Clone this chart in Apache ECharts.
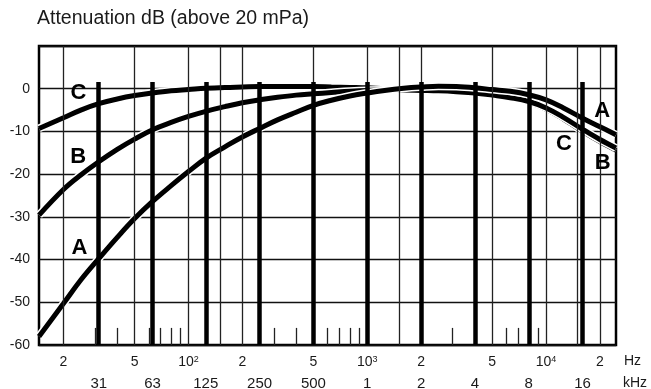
<!DOCTYPE html>
<html>
<head>
<meta charset="utf-8">
<script src="https://cdn.jsdelivr.net/npm/echarts@6/dist/echarts.min.js"></script>
<style>
  html, body { margin: 0; padding: 0; background: #fff; }
  #chart { width: 651px; height: 389px; }
</style>
</head>
<body>
<div id="chart"></div>
<script>
const freqs = [14.6, 20, 25, 31.5, 40, 50, 63, 80, 100, 125, 160, 200, 250, 315, 400, 500, 630, 800,
  1000, 1250, 1600, 2000, 2500, 3150, 4000, 5000, 6300, 8000, 10000, 12500, 16000, 20000, 24600]

const weightA = [-58.0, -50.3, -44.8, -39.8, -34.8, -30.4, -26.4, -22.7, -19.4, -16.3, -13.6, -11.3, -9.3, -7.3, -5.5, -3.9, -2.7, -1.7,
  -1.0, -0.4, 0.1, 0.4, 0.6, 0.5, 0.2, -0.2, -0.6, -1.4, -2.6, -4.5, -6.9, -8.9, -10.8]
const weightB = [-29.6, -23.6, -20.2, -17.1, -14.2, -11.8, -9.6, -7.9, -6.5, -5.3, -4.2, -3.3, -2.6, -2.0, -1.5, -1.2, -0.9, -0.6,
  -0.4, -0.3, -0.3, -0.4, -0.5, -0.7, -1.0, -1.5, -2.1, -3.0, -4.5, -6.7, -9.5, -11.9, -13.9]
const weightC = [-9.3, -6.8, -5.0, -3.5, -2.4, -1.6, -1.0, -0.5, -0.2, 0.1, 0.3, 0.4, 0.5, 0.5, 0.5, 0.5, 0.4, 0.3,
  0.2, 0.0, -0.1, -0.3, -0.5, -0.7, -1.0, -1.5, -2.2, -3.2, -4.8, -7.1, -10.0, -12.4, -14.4]

// axis
const freqMin = 14.6
const freqMax = 24600
const gridFreqs = [20, 50, 100, 150, 200, 500, 1000, 1500, 2000, 5000, 10000, 15000, 20000]
const minorFreqs = [30, 40, 60, 70, 80, 90, 300, 400, 600, 700, 800, 900, 3000, 6000, 7000, 9000]
const decadeFreqs = [20, 50, 100, 200, 500, 1000, 2000, 5000, 10000, 20000]
const decadeLabels = ['2', '5', '10^2', '2', '5', '10^3', '2', '5', '10^4', '2']
const octaveFreqs = [31.5, 63, 125, 250, 500, 1000, 2000, 4000, 8000, 16000]
const octaveLabels = ['31', '63', '125', '250', '500', '1', '2', '4', '8', '16']

// curve letters [name, freq, dB]
const curveTags = [
  ['C', 24.3, -0.9], ['B', 24.2, -15.9], ['A', 24.6, -37.3],
  ['A', 20600, -5.2], ['C', 12600, -13.0], ['B', 20700, -17.4]
]

const font = 'Liberation Sans, Arial, sans-serif'
const ink = '#1a1a1a'

function curve(name, values, z) {
  const data = freqs.map((f, i) => [f, values[i]])
  return [{
    name: name + '-halo',
    type: 'line',
    data: data,
    smooth: 0.4,
    showSymbol: false,
    silent: true,
    z: z,
    lineStyle: { color: '#fff', width: 8 }
  }, {
    name: name,
    type: 'line',
    data: data,
    smooth: 0.4,
    showSymbol: false,
    silent: true,
    z: z,
    lineStyle: { color: '#000', width: 5 }
  }]
}

// scatter used only to carry text at data positions
function textSeries(name, data, label, z) {
  return {
    name: name,
    type: 'scatter',
    data: data,
    symbolSize: 0,
    silent: true,
    z: z || 2,
    itemStyle: { opacity: 1 },
    label: Object.assign({ show: true, textBorderWidth: 0 }, label)
  }
}

const chart = echarts.init(document.getElementById('chart'))

chart.setOption({
  animation: false,
  textStyle: { fontFamily: font },
  grid: {
    left: 39,
    right: 35,
    top: 46,
    bottom: 44,
    show: true,
    borderColor: '#000',
    borderWidth: 2.5
  },
  graphic: [
    { type: 'text', left: 37, top: 9, style: { text: 'Attenuation dB (above 20 mPa)', font: '19.5px ' + font, fill: ink } },
    { type: 'text', left: 624, top: 354, style: { text: 'Hz', font: '14px ' + font, fill: ink } },
    { type: 'text', left: 623, top: 376, style: { text: 'kHz', font: '14px ' + font, fill: ink } }
  ],
  xAxis: {
    type: 'log',
    logBase: 10,
    min: freqMin,
    max: freqMax,
    axisLine: { show: false },
    axisTick: { show: false },
    axisLabel: { show: false },
    splitLine: { show: false }
  },
  yAxis: {
    type: 'value',
    min: -60,
    max: 10,
    interval: 10,
    axisLine: { show: false },
    axisTick: { show: false },
    axisLabel: {
      color: ink,
      fontSize: 14,
      margin: 9,
      formatter: (v) => (v > 0 ? '' : String(v))
    },
    splitLine: { lineStyle: { color: '#111', width: 1.3 } }
  },
  series: [
    {
      name: 'grid',
      type: 'line',
      data: [[freqMin, -60]],
      showSymbol: false,
      silent: true,
      z: 1,
      lineStyle: { opacity: 0 },
      markLine: {
        symbol: 'none',
        silent: true,
        label: { show: false },
        lineStyle: { color: '#222', width: 1.3, type: 'solid' },
        data: gridFreqs.map((f) => ({ xAxis: f }))
          .concat(minorFreqs.map((f) => [{ coord: [f, -60] }, { coord: [f, -56] }]))
      }
    },
    ...curve('C', weightC, 3),
    ...curve('B', weightB, 3),
    ...curve('A', weightA, 3),
    {
      name: 'octave bands',
      type: 'line',
      data: [[freqMin, -60]],
      showSymbol: false,
      silent: true,
      z: 4,
      lineStyle: { opacity: 0 },
      markLine: {
        symbol: 'none',
        silent: true,
        label: { show: false },
        lineStyle: { color: '#000', width: 4.5, type: 'solid' },
        data: octaveFreqs.map((f) => [{ coord: [f, -60] }, { coord: [f, 1.6] }])
      }
    },
    textSeries('decade labels', decadeFreqs.map((f) => [f, -60]), {
      position: 'bottom',
      distance: 10,
      color: ink,
      fontSize: 14,
      lineHeight: 14,
      formatter: (p) => {
        const parts = decadeLabels[p.dataIndex].split('^')
        return parts.length > 1 ? '{b|' + parts[0] + '}{s|' + parts[1] + '}' : parts[0]
      },
      rich: {
        b: { fontSize: 14, color: ink, lineHeight: 14 },
        s: { fontSize: 9, color: ink, verticalAlign: 'top', lineHeight: 14, padding: [0, 0, 6, 0] }
      }
    }),
    textSeries('octave labels', octaveFreqs.map((f) => [f, -60]), {
      position: 'bottom',
      distance: 31,
      color: ink,
      fontSize: 15,
      formatter: (p) => octaveLabels[p.dataIndex]
    }),
    textSeries('curve tags', curveTags.map((t) => [t[1], t[2]]), {
      position: 'inside',
      color: '#000',
      fontSize: 22,
      fontWeight: 'bold',
      formatter: (p) => curveTags[p.dataIndex][0]
    }, 6)
  ]
})
</script>
</body>
</html>
